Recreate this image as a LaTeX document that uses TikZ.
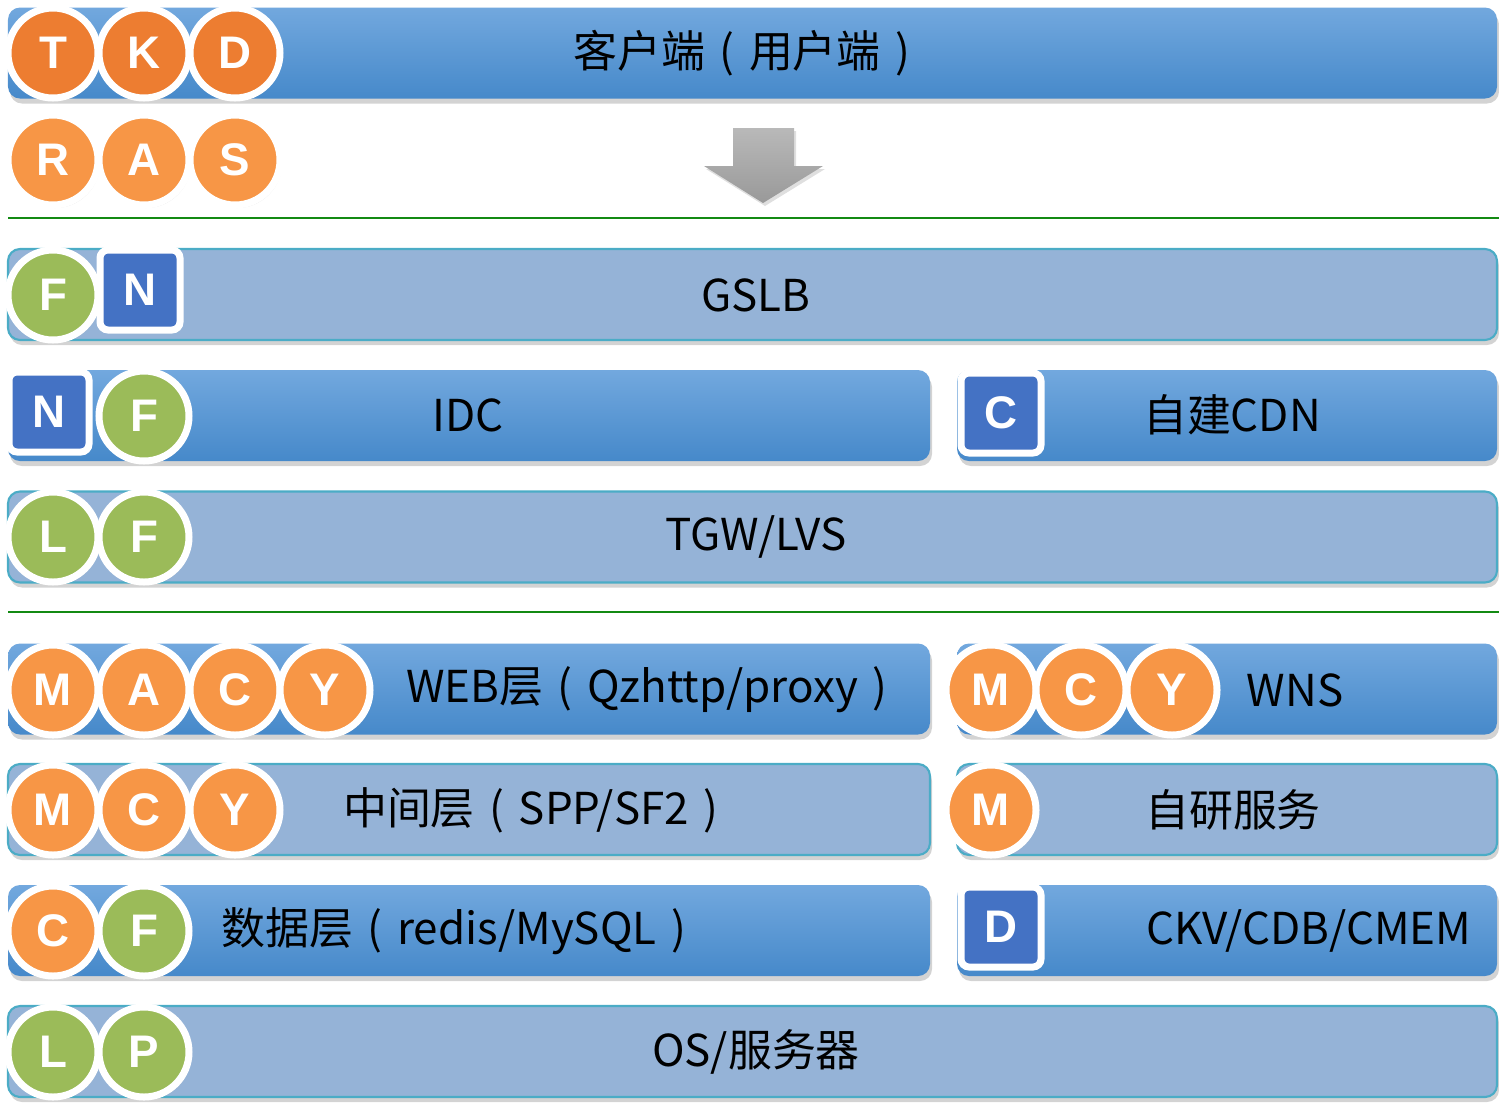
\documentclass[tikz,border=0pt]{standalone}
\usepackage{fontspec}
\setmainfont{Noto Sans CJK SC}
\newfontfamily\badgefont{Liberation Sans}
\usetikzlibrary{shadows}
\definecolor{bartop}{HTML}{72A8DE}
\definecolor{barbottom}{HTML}{4689CA}
\definecolor{barlight}{HTML}{95B3D7}
\definecolor{barline}{HTML}{4BACC6}
\definecolor{orangedark}{HTML}{ED7D31}
\definecolor{orangelight}{HTML}{F79646}
\definecolor{greenbadge}{HTML}{9BBB59}
\definecolor{bluebadge}{HTML}{4472C4}
\definecolor{sepline}{HTML}{138A13}
\newcommand\lpar{\makebox[1em]{(}}
\newcommand\rpar{\makebox[1em]{)}}
\tikzset{
  barshadow/.style={drop shadow={shadow xshift=0.02cm,shadow yshift=-0.05cm,opacity=0.35}},
  darkbar/.style={rounded corners=0.12cm,top color=bartop,bottom color=barbottom,
    minimum height=0.91cm,inner sep=0pt,barshadow},
  lightbar/.style={rounded corners=0.12cm,fill=barlight,draw=barline,line width=0.6pt,
    minimum height=0.91cm,inner sep=0pt,barshadow},
  bartext/.style={inner sep=0pt,font=\fontsize{12.5}{15}\selectfont},
  badge/.style={draw=white,line width=0.07cm,inner sep=0pt,text=white,
    font=\badgefont\bfseries\fontsize{13}{15}\selectfont,
    drop shadow={shadow xshift=0.02cm,shadow yshift=-0.03cm,opacity=0.2}},
  obadge/.style={badge,circle,minimum size=0.9cm,fill=orangelight},
  dbadge/.style={badge,circle,minimum size=0.9cm,fill=orangedark},
  gbadge/.style={badge,circle,minimum size=0.9cm,fill=greenbadge},
  sqbadge/.style={badge,rectangle,rounded corners=0.08cm,minimum size=0.8cm,fill=bluebadge}
}
\begin{document}
\begin{tikzpicture}
  \useasboundingbox (0,0) rectangle (14.99,-11.02);
  \node[darkbar,minimum width=14.89cm] (client) at (7.525,-0.53) {};
  \node[lightbar,minimum width=14.89cm] (gslb) at (7.525,-2.945) {};
  \node[darkbar,minimum width=9.22cm] (idc) at (4.69,-4.155) {};
  \node[darkbar,minimum width=5.40cm] (cdn) at (12.27,-4.155) {};
  \node[lightbar,minimum width=14.89cm] (tgw) at (7.525,-5.37) {};
  \node[darkbar,minimum width=9.22cm] (web) at (4.69,-6.89) {};
  \node[darkbar,minimum width=5.40cm] (wns) at (12.27,-6.89) {};
  \node[lightbar,minimum width=9.22cm] (mid) at (4.69,-8.095) {};
  \node[lightbar,minimum width=5.40cm] (self) at (12.27,-8.095) {};
  \node[darkbar,minimum width=9.22cm] (data) at (4.69,-9.305) {};
  \node[darkbar,minimum width=5.40cm] (ckv) at (12.27,-9.305) {};
  \node[lightbar,minimum width=14.89cm] (os) at (7.525,-10.515) {};

  \node[bartext] (clientlbl) at (7.49,-0.53) {客户端\lpar 用户端\rpar};
  \node[bartext] (gslblbl) at (7.56,-2.95) {GSLB};
  \node[bartext] (idclbl) at (4.68,-4.15) {IDC};
  \node[bartext] (cdnlbl) at (12.32,-4.15) {自建CDN};
  \node[bartext] (tgwlbl) at (7.56,-5.37) {TGW/LVS};
  \node[bartext] (weblbl) at (6.54,-6.90) {WEB层\lpar Qzhttp/proxy\rpar};
  \node[bartext] (wnslbl) at (12.95,-6.90) {WNS};
  \node[bartext] (midlbl) at (5.38,-8.10) {中间层\lpar SPP/SF2\rpar};
  \node[bartext] (selflbl) at (12.33,-8.10) {自研服务};
  \node[bartext] (datalbl) at (4.61,-9.31) {数据层\lpar redis/MySQL\rpar};
  \node[bartext] (ckvlbl) at (13.09,-9.31) {CKV/CDB/CMEM};
  \node[bartext] (oslbl) at (7.56,-10.52) {OS/服务器};

  \shade[top color=gray!55,bottom color=gray!80,
    drop shadow={shadow xshift=0.02cm,shadow yshift=-0.03cm,opacity=0.25}]
    (7.33,-1.28) -- (7.94,-1.28) -- (7.94,-1.66) -- (8.23,-1.66)
    -- (7.63,-2.03) -- (7.04,-1.66) -- (7.33,-1.66) -- cycle;
  \draw[sepline,line width=0.02cm] (0.08,-2.18) -- (14.99,-2.18);
  \draw[sepline,line width=0.02cm] (0.08,-6.12) -- (14.99,-6.12);

  \node[dbadge] (t) at (0.53,-0.53) {T};
  \node[dbadge] (k) at (1.44,-0.53) {K};
  \node[dbadge] (d) at (2.35,-0.53) {D};
  \node[obadge] (r) at (0.53,-1.60) {R};
  \node[obadge] (a) at (1.44,-1.60) {A};
  \node[obadge] (s) at (2.35,-1.60) {S};

  \node[gbadge] (gslbf) at (0.53,-2.95) {F};
  \node[sqbadge] (gslbn) at (1.40,-2.90) {N};
  \node[sqbadge] (idcn) at (0.49,-4.12) {N};
  \node[gbadge] (idcf) at (1.44,-4.16) {F};
  \node[sqbadge] (cdnc) at (10.01,-4.13) {C};
  \node[gbadge] (tgwl) at (0.53,-5.37) {L};
  \node[gbadge] (tgwf) at (1.44,-5.37) {F};

  \node[obadge] (webm) at (0.53,-6.90) {M};
  \node[obadge] (weba) at (1.44,-6.90) {A};
  \node[obadge] (webc) at (2.35,-6.90) {C};
  \node[obadge] (weby) at (3.25,-6.90) {Y};
  \node[obadge] (wnsm) at (9.91,-6.90) {M};
  \node[obadge] (wnsc) at (10.81,-6.90) {C};
  \node[obadge] (wnsy) at (11.72,-6.90) {Y};
  \node[obadge] (midm) at (0.53,-8.10) {M};
  \node[obadge] (midc) at (1.44,-8.10) {C};
  \node[obadge] (midy) at (2.35,-8.10) {Y};
  \node[obadge] (selfm) at (9.91,-8.10) {M};
  \node[obadge] (datac) at (0.53,-9.31) {C};
  \node[gbadge] (dataf) at (1.44,-9.31) {F};
  \node[sqbadge] (ckvd) at (10.01,-9.27) {D};
  \node[gbadge] (osl) at (0.53,-10.52) {L};
  \node[gbadge] (osp) at (1.44,-10.52) {P};
\end{tikzpicture}
\end{document}
